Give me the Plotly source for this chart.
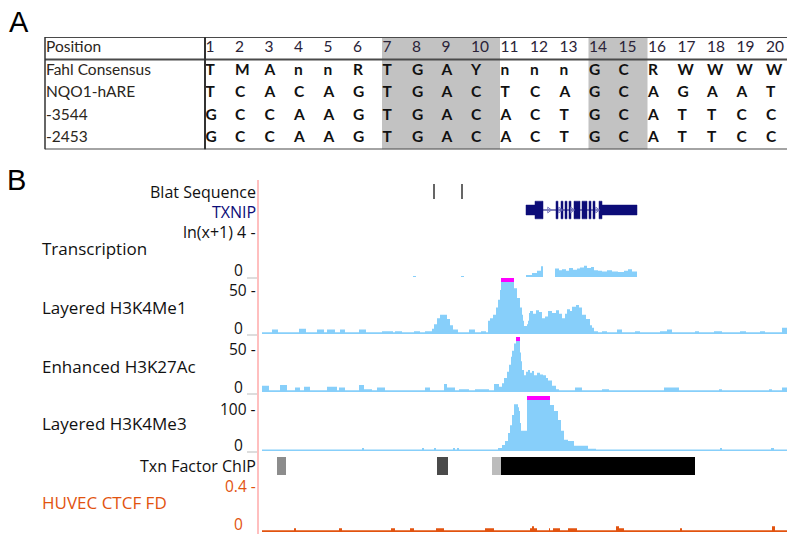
import plotly.graph_objects as go

W, H = 787, 534

# ---------------- Panel A data ----------------
positions = list(range(1, 21))
row_labels = ["Position", "Fahl Consensus", "NQO1-hARE", "-3544", "-2453"]
seq_fahl = list("TMAnnRTGAYnnnGCRWWWW")
seq_nqo1 = list("TCACAGTGACTCAGCAGAAT")
seq_3544 = list("GCCAAGTGACACTGCATTCC")
seq_2453 = list("GCCAAGTGACACTGCATTCC")
core_cols = [7, 8, 9, 10, 14, 15]

# ---------------- Panel B data (x = position bin along the locus) ----------------
locus_end = 525
blat_hits = [172, 200]
gene_name = "TXNIP"
gene_tx = (264, 375)
gene_cds = (273, 340)
gene_exons = [(264, 281), (294, 296), (299, 301), (303, 305), (307, 309),
              (312, 318), (320, 325), (327, 329), (331, 333), (337, 375)]
gene_arrows = [287, 298, 310, 335]

trans_pos = [0, 151, 154, 199, 202, 264, 270, 275, 279, 281, 293, 297, 300, 304, 307,
             311, 315, 318, 322, 325, 329, 332, 336, 340, 345, 350, 356, 362, 366, 370, 375]
trans_val = [0, 0.1, 0, 0.1, 0, 0.18, 0.36, 0.55, 0.95, 0, 0.75, 0.6, 0.7, 0.55, 0.8,
             0.65, 0.75, 0.85, 1.0, 0.8, 0.9, 0.6, 0.55, 0.5, 0.6, 0.5, 0.45, 0.55, 0.7, 0.5, 0]

me1_pos = [0, 10, 16, 37, 44, 55, 62, 65, 73, 78, 83, 97, 104, 120, 131, 133, 140, 152, 158, 163,
           170, 172, 175, 178, 182, 185, 188, 191, 196, 207, 213, 219, 224, 226, 228, 231, 234, 236,
           238, 239, 252, 255, 258, 260, 261, 262, 265, 266, 267, 268, 271, 274, 277, 280, 283, 286,
           290, 294, 297, 300, 303, 305, 308, 310, 314, 317, 320, 324, 328, 330, 332, 336, 340, 345,
           355, 360, 373, 378, 398, 405, 410, 433, 437, 452, 460, 478, 484, 498, 503, 520]
me1_val = [2, 5, 2, 6, 2, 5, 2, 5, 2, 5, 2, 5, 2, 3, 2, 3, 2, 3, 2, 3,
           6, 11, 18, 22, 22, 17, 10, 5, 2, 5, 2, 3, 2, 15, 18, 22, 30, 39,
           50, 72, 52, 41, 30, 22, 15, 9, 11, 15, 24, 26, 23, 27, 25, 18, 20, 26,
           24, 27, 23, 18, 23, 28, 26, 31, 33, 30, 22, 17, 10, 7, 3, 2, 3, 2,
           5, 2, 3, 2, 3, 5, 2, 3, 2, 3, 2, 3, 2, 3, 2, 7]

k27_pos = [0, 7, 18, 25, 33, 38, 42, 48, 65, 75, 77, 83, 97, 102, 110, 115, 123, 163, 168, 182,
           185, 193, 197, 207, 213, 227, 232, 237, 240, 242, 245, 247, 249, 250, 252, 254, 258,
           259, 260, 262, 264, 266, 268, 270, 272, 275, 278, 281, 284, 286, 290, 294, 297, 313,
           320, 340, 347, 402, 417, 457, 460, 507, 510, 520]
k27_val = [7, 2, 8, 2, 5, 2, 6, 2, 6, 2, 5, 2, 8, 3, 2, 5, 2, 5, 2, 9,
           5, 2, 3, 2, 3, 2, 9, 6, 10, 16, 23, 31, 40, 47, 55, 72, 45,
           35, 25, 19, 23, 25, 22, 24, 19, 22, 20, 19, 16, 13, 7, 3, 2, 5,
           2, 3, 2, 5, 2, 3, 2, 3, 2, 5]

me3_pos = [0, 100, 102, 160, 162, 172, 174, 191, 193, 195, 197, 236, 240, 243, 246, 248, 250,
           252, 256, 257, 258, 259, 265, 288, 292, 296, 299, 302, 306, 312, 326, 334, 458, 460,
           509, 512]
me3_val = [3.5, 7, 3.5, 7, 3.5, 7, 3.5, 7, 3.5, 7, 3.5, 7, 14, 23, 42, 60, 84,
           109, 102, 93, 65, 47, 150, 107, 93, 72, 47, 26, 23, 12, 5, 3.5, 7, 3.5,
           7, 3.5]

chip_start = [15, 175, 230, 239]
chip_end = [24, 186, 239, 433]
chip_shade = ["#8c8c8c", "#4a4a4a", "#bcbcbc", "#000000"]

ctcf_pos = [0, 32, 34, 77, 80, 129, 133, 148, 152, 174, 182, 223, 232, 268, 270, 272, 275,
            287, 288, 291, 298, 306, 315, 354, 357, 362, 418, 420, 510, 513]
ctcf_val = [0.015, 0.032, 0.015, 0.032, 0.015, 0.032, 0.015, 0.032, 0.015, 0.032, 0.015,
            0.032, 0.015, 0.032, 0.048, 0.032, 0.015, 0.032, 0.015, 0.032, 0.015, 0.032,
            0.015, 0.048, 0.032, 0.015, 0.032, 0.015, 0.048, 0.015]

# ---------------- styling ----------------
BLUE = "rgb(135,207,250)"
MAGENTA = "#ff00ff"
NAVY = "#0c0c78"
ORANGE = "#e2530f"
FONT_B = "Open Sans"
FONT_A = "Lato"
SIZE_B = 17
SIZE_S = 16
SIZE_T = 15.5


def py(px):
    return 1 - px / H


def pxx(px):
    return px / W


fig = go.Figure()

# ---------------- Panel A: table on axis x/y ----------------
TX0, TW = 205.0, 29.5
tab_left = (45 - TX0) / TW
tab_right = (W - TX0) / TW
label_x = (46 - TX0) / TW

runs = []
for c in sorted(core_cols):
    if runs and runs[-1][1] == c - 1:
        runs[-1][1] = c
    else:
        runs.append([c, c])
for a, b in runs:
    fig.add_shape(type="rect", xref="x", yref="y", x0=a - 1, x1=b, y0=0, y1=5,
                  fillcolor="#c2c2c2", line_width=0, layer="below")

for yy in [0, 1, 5]:
    fig.add_shape(type="line", xref="x", yref="y", x0=tab_left, x1=tab_right, y0=yy, y1=yy,
                  line=dict(color="#4a4a4a", width=2))
for xx, wdt in [(tab_left, 1.5), (0, 2)]:
    fig.add_shape(type="line", xref="x", yref="y", x0=xx, x1=xx, y0=0, y1=5,
                  line=dict(color="#333333", width=wdt))

fig.add_trace(go.Scatter(
    x=[p - 1 + 0.02 for p in positions], y=[0.5] * len(positions),
    text=[str(p) for p in positions], mode="text", textposition="middle right",
    textfont=dict(family=FONT_A, size=15.5, color="#2a2338"),
    xaxis="x", yaxis="y", hoverinfo="skip", cliponaxis=False))
fig.add_trace(go.Scatter(
    x=[label_x] * len(row_labels), y=[r + 0.5 for r in range(len(row_labels))],
    text=row_labels, mode="text", textposition="middle right",
    textfont=dict(family=FONT_A, size=15.5, color="#2b2620"),
    xaxis="x", yaxis="y", hoverinfo="skip", cliponaxis=False))
for r, seq in enumerate([seq_fahl, seq_nqo1, seq_3544, seq_2453]):
    fig.add_trace(go.Scatter(
        x=[p - 1 + 0.02 for p in positions], y=[r + 1.5] * len(positions),
        text=seq, mode="text", textposition="middle right",
        textfont=dict(family=FONT_A, size=15.5, color="#111111", weight="bold"),
        xaxis="x", yaxis="y", hoverinfo="skip", cliponaxis=False))

# ---------------- Panel B tracks ----------------
tracks = {
    "blat": dict(axis="y2", top=182, bottom=201, rng=[0, 1]),
    "gene": dict(axis="y3", top=199, bottom=221, rng=[-1, 1]),
    "trans": dict(axis="y4", top=228, bottom=277, rng=[0, 49 / 11.25]),
    "me1": dict(axis="y5", top=278, bottom=334, rng=[0, 56 / 0.88]),
    "k27": dict(axis="y6", top=337, bottom=392, rng=[0, 55 / 0.88]),
    "me3": dict(axis="y7", top=396, bottom=451, rng=[0, 55 / 0.43]),
    "chip": dict(axis="y8", top=457, bottom=475, rng=[0, 1]),
    "ctcf": dict(axis="y9", top=478, bottom=532, rng=[0, 54 / 117.5]),
}


def step_xy(pos, vals, end):
    return list(pos) + [end], list(vals) + [vals[-1]]


def add_signal(key, pos, vals, color):
    t = tracks[key]
    x, y = step_xy(pos, vals, locus_end)
    fig.add_trace(go.Scatter(x=x, y=y, xaxis="x2", yaxis=t["axis"], mode="lines",
                             line=dict(width=0, shape="hv", color=color), fill="tozeroy",
                             fillcolor=color, hoverinfo="skip"))
    ymax = t["rng"][1]
    ends = list(pos[1:]) + [locus_end]
    ym = ymax * (1 - 2.0 / (t["bottom"] - t["top"]))
    for s, e, v in zip(pos, ends, vals):
        if v > ymax:
            fig.add_trace(go.Scatter(x=[s, e], y=[ym, ym], xaxis="x2", yaxis=t["axis"],
                                     mode="lines", line=dict(color=MAGENTA, width=4),
                                     hoverinfo="skip"))


add_signal("trans", trans_pos, trans_val, BLUE)
add_signal("me1", me1_pos, me1_val, BLUE)
add_signal("k27", k27_pos, k27_val, BLUE)
add_signal("me3", me3_pos, me3_val, BLUE)
add_signal("ctcf", ctcf_pos, ctcf_val, ORANGE)

# blat hits
bx, by = [], []
for h in blat_hits:
    bx += [h, h, None]
    by += [0.1, 0.9, None]
fig.add_trace(go.Scatter(x=bx, y=by, xaxis="x2", yaxis="y2", mode="lines",
                         line=dict(color="#333333", width=1.5), hoverinfo="skip"))

# gene model
fig.add_trace(go.Scatter(x=[gene_tx[0], gene_tx[1]], y=[0, 0], xaxis="x2", yaxis="y3",
                         mode="lines", line=dict(color=NAVY, width=1.2), hoverinfo="skip"))
gx, gy = [], []
for s, e in gene_exons:
    parts = []
    cs, ce = gene_cds
    if s < cs:
        parts.append((s, min(e, cs), 0.45))
    if e > cs and s < ce:
        parts.append((max(s, cs), min(e, ce), 0.8))
    if e > ce:
        parts.append((max(s, ce), e, 0.45))
    for a, b, hh in parts:
        gx += [a, b, b, a, a, None]
        gy += [-hh, -hh, hh, hh, -hh, None]
fig.add_trace(go.Scatter(x=gx, y=gy, xaxis="x2", yaxis="y3", mode="lines", fill="toself",
                         fillcolor=NAVY, line=dict(color=NAVY, width=0.5), hoverinfo="skip"))
fig.add_trace(go.Scatter(x=gene_arrows, y=[0] * len(gene_arrows), xaxis="x2", yaxis="y3",
                         mode="markers", marker=dict(symbol="triangle-right-open", size=5,
                                                     color="#7777c0", line=dict(width=1)),
                         hoverinfo="skip"))

# txn factor chip
fig.add_trace(go.Bar(x=[(s + e) / 2 for s, e in zip(chip_start, chip_end)],
                     width=[e - s for s, e in zip(chip_start, chip_end)],
                     y=[1] * len(chip_start), base=0, marker=dict(color=chip_shade, line_width=0),
                     xaxis="x2", yaxis="y8", hoverinfo="skip"))

# ---------------- labels ----------------
ann = []


def label(text, xpx, ypx, anchor="right", color="#111111", size=SIZE_B, family=FONT_B):
    ann.append(dict(text=text, x=pxx(xpx), y=py(ypx), xref="paper", yref="paper",
                    xanchor=anchor, yanchor="middle", showarrow=False, borderpad=0,
                    font=dict(family=family, size=size, color=color)))


label("A", 8, 22, anchor="left", size=29, family="Liberation Sans", color="#000")
label("B", 6, 180, anchor="left", size=29, family="Liberation Sans", color="#000")

label("Blat Sequence", 257, 192, size=SIZE_S)
label(gene_name, 257, 212, color=NAVY, size=SIZE_S)
label("ln(x+1) 4 -", 257, 232, size=SIZE_S)
label("0", 244, 270, size=SIZE_T)
label("50 -", 257, 290, size=SIZE_T)
label("0", 244, 328, size=SIZE_T)
label("50 -", 257, 349, size=SIZE_T)
label("0", 244, 387, size=SIZE_T)
label("100 -", 257, 409, size=SIZE_T)
label("0", 244, 445, size=SIZE_T)
label("Txn Factor ChIP", 257, 466, size=SIZE_S)
label("0.4 -", 257, 486, color=ORANGE, size=SIZE_T)
label("0", 244, 524, color=ORANGE, size=SIZE_T)

label("Transcription", 41, 248, anchor="left")
label("Layered H3K4Me1", 41, 307, anchor="left")
label("Enhanced H3K27Ac", 41, 366, anchor="left")
label("Layered H3K4Me3", 41, 423, anchor="left")
label("HUVEC CTCF FD", 41, 502, anchor="left", color=ORANGE)

shapes_extra = [
    dict(type="line", xref="paper", yref="paper", x0=pxx(258), x1=pxx(258), y0=py(180), y1=0,
         line=dict(color="rgb(255,170,170)", width=1.5)),
]
for ysep in [278, 335, 394, 452]:
    shapes_extra.append(dict(type="line", xref="paper", yref="paper", x0=pxx(247), x1=pxx(257),
                             y0=py(ysep), y1=py(ysep), line=dict(color="#bbbbbb", width=1)))
for s in shapes_extra:
    fig.add_shape(**s)

layout = dict(
    width=W, height=H, margin=dict(l=0, r=0, t=0, b=0),
    paper_bgcolor="white", plot_bgcolor="rgba(0,0,0,0)", showlegend=False,
    annotations=ann, barmode="overlay",
    xaxis=dict(domain=[0, 1], range=[-TX0 / TW, tab_right], visible=False, fixedrange=True,
               anchor="y"),
    yaxis=dict(domain=[py(149.5), py(37)], range=[5, 0], visible=False, fixedrange=True,
               anchor="x"),
    xaxis2=dict(domain=[pxx(262), 1], range=[0, locus_end], visible=False, fixedrange=True,
                anchor="y5"),
)
for key, t in tracks.items():
    layout["yaxis" + t["axis"][1:]] = dict(domain=[py(t["bottom"]), py(t["top"])], range=t["rng"],
                                           visible=False, fixedrange=True, anchor="x2")
fig.update_layout(**layout)

fig.write_html("out.html", config={"displayModeBar": False},
               post_script="document.body.style.margin='0px';document.body.style.overflow='hidden';")
